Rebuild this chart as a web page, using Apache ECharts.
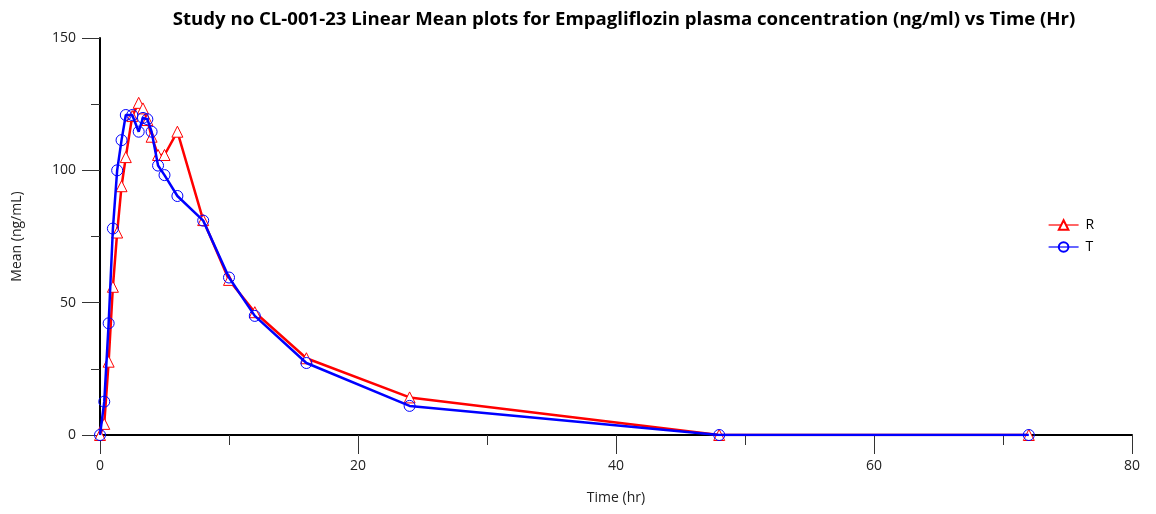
<!DOCTYPE html>
<html>
<head>
<meta charset="utf-8">
<script src="https://cdn.jsdelivr.net/npm/echarts@6/dist/echarts.min.js"></script>
<style>html,body{margin:0;padding:0;background:#fff;}#c{width:1156px;height:514px;}</style>
</head>
<body>
<div id="c"></div>
<script>
const titleText = 'Study no CL-001-23 Linear Mean plots for Empagliflozin plasma concentration (ng/ml) vs Time (Hr)';
const times = [0, 0.33, 0.67, 1, 1.33, 1.67, 2, 2.5, 3, 3.33, 3.67, 4, 4.5, 5, 6, 8, 10, 12, 16, 24, 48, 72];
const meanR = [0, 4.2, 27.7, 56, 76.5, 94, 105, 120.5, 125.5, 123.4, 119, 112.7, 105.8, 105.8, 114.6, 81.2, 58.6, 46.4, 29, 14.2, 0, 0];
const meanT = [0, 12.6, 42.2, 78, 100, 111.4, 120.9, 120.9, 114.6, 119.8, 119.3, 114.6, 101.8, 98.2, 90.3, 81, 59.5, 45, 27.2, 11, 0, 0];
const seriesNames = ['R', 'T'];
const xTicks = [0, 20, 40, 60, 80];
const yTicks = [0, 50, 100, 150];

const chart = echarts.init(document.getElementById('c'), null, {renderer: 'canvas'});
const font = '"Open Sans", "Noto Sans", sans-serif';
function pairs(xs, ys) { return xs.map((x, i) => [x, ys[i]]); }
chart.setOption({
  animation: false,
  backgroundColor: '#fff',
  textStyle: {fontFamily: font},
  title: {
    text: titleText, left: 619, top: 5, textAlign: 'center',
    textStyle: {fontFamily: font, fontWeight: 'bold', fontSize: 18.6, color: '#000'}
  },
  legend: {
    orient: 'vertical', left: 1043, top: 213, itemGap: 8, itemWidth: 30, itemHeight: 12,
    textStyle: {fontFamily: font, fontSize: 14, color: '#000', padding: [0, 0, 0, 2]},
    lineStyle: {width: 1.2},
    data: seriesNames
  },
  grid: {left: 100, right: 24, top: 38, bottom: 79},
  xAxis: {
    type: 'value', min: xTicks[0], max: xTicks[xTicks.length - 1], interval: 20,
    name: 'Time (hr)', nameLocation: 'middle', nameGap: 56,
    nameTextStyle: {fontFamily: font, fontSize: 14, color: '#222'},
    axisLine: {onZero: false, lineStyle: {color: '#000', width: 2}},
    axisTick: {show: true, length: 19, lineStyle: {color: '#333', width: 1}},
    minorTick: {show: true, splitNumber: 2, length: 10, lineStyle: {color: '#333', width: 1}},
    axisLabel: {fontFamily: font, fontSize: 14, color: '#222', margin: 24},
    splitLine: {show: false}
  },
  yAxis: {
    type: 'value', min: yTicks[0], max: yTicks[yTicks.length - 1], interval: 50,
    name: 'Mean (ng/mL)', nameLocation: 'middle', nameGap: 76, nameRotate: 90,
    nameTextStyle: {fontFamily: font, fontSize: 14, color: '#222'},
    axisLine: {show: true, lineStyle: {color: '#000', width: 2}},
    axisTick: {show: true, length: 18, lineStyle: {color: '#333', width: 1}},
    minorTick: {show: true, splitNumber: 2, length: 9, lineStyle: {color: '#333', width: 1}},
    axisLabel: {fontFamily: font, fontSize: 14, color: '#222', margin: 24},
    splitLine: {show: false}
  },
  series: [
    {
      name: seriesNames[0], type: 'line', data: pairs(times, meanR),
      symbol: 'triangle', symbolSize: 11, showAllSymbol: true,
      lineStyle: {color: '#ff0000', width: 2.5},
      itemStyle: {color: '#fff', borderColor: '#ff0000', borderWidth: 1},
      z: 2
    },
    {
      name: seriesNames[1], type: 'line', data: pairs(times, meanT),
      symbol: 'circle', symbolSize: 11, showAllSymbol: true,
      lineStyle: {color: '#0000ff', width: 2.5},
      itemStyle: {color: 'rgba(255,255,255,0)', borderColor: '#0000ff', borderWidth: 1},
      z: 3
    }
  ]
});
</script>
</body>
</html>
